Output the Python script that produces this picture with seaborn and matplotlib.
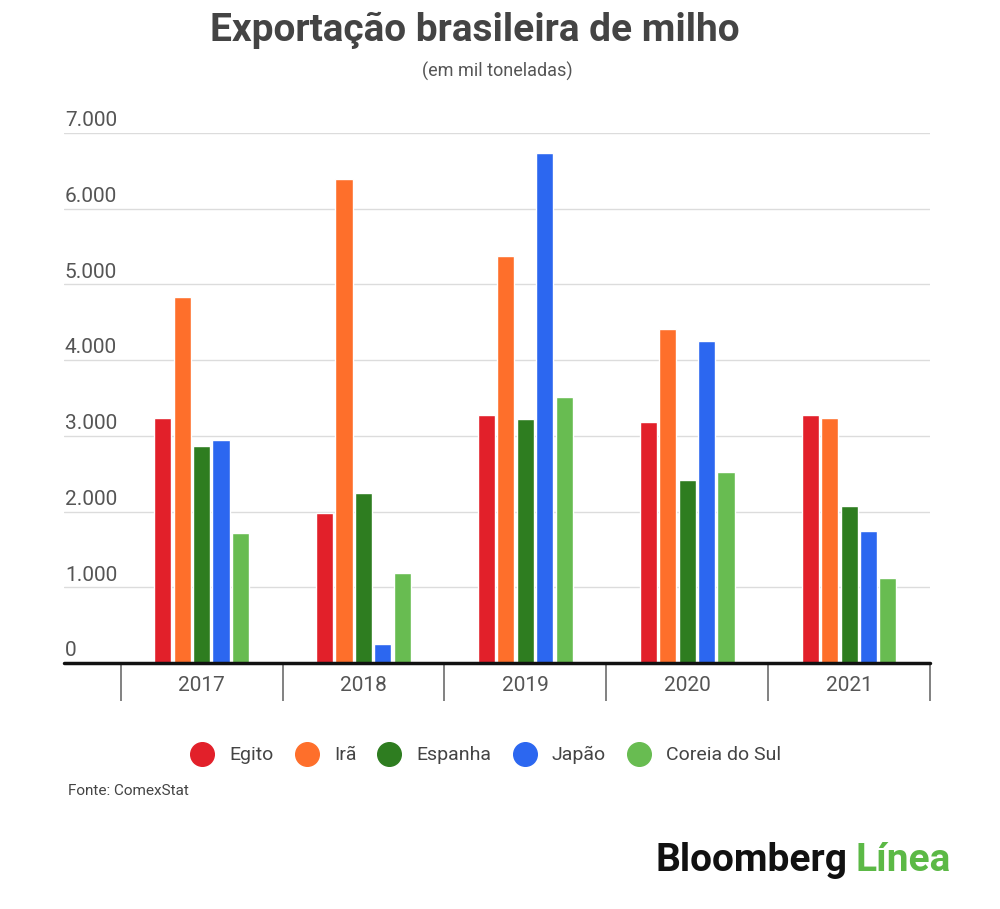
import pandas as pd
import matplotlib.pyplot as plt
import seaborn as sns
from matplotlib.lines import Line2D

# Valores (mil toneladas)
anos = ['2017', '2018', '2019', '2020', '2021']
paises = ['Egito', 'Irã', 'Espanha', 'Japão', 'Coreia do Sul']
egito = [3240, 1980, 3270, 3180, 3270]
ira = [4840, 6390, 5370, 4410, 3240]
espanha = [2870, 2240, 3220, 2420, 2080]
japao = [2950, 250, 6740, 4250, 1740]
coreia = [1720, 1190, 3510, 2520, 1120]
cores = ['#e2202a', '#fe6f2b', '#2e7d20', '#2c67f0', '#68bc51']
y_ticks = [0, 1000, 2000, 3000, 4000, 5000, 6000, 7000]

sns.set_theme(style='white')
plt.rcParams['font.family'] = ['Roboto', 'DejaVu Sans']

rows = []
for pais, vals in zip(paises, [egito, ira, espanha, japao, coreia]):
    for ano, v in zip(anos, vals):
        rows.append({'ano': ano, 'pais': pais, 'valor': v})
df = pd.DataFrame(rows)

fig = plt.figure(figsize=(10, 9.09), dpi=100)
ax = fig.add_axes([0.064, 0.2706, 0.866, 0.5831])

sns.barplot(data=df, x='ano', y='valor', hue='pais', order=anos,
            hue_order=paises, palette=cores, width=0.6, gap=0.12,
            saturation=1, legend=False, ax=ax)

ax.set_xlim(-0.85, 4.5)
ax.set_ylim(0, 7000)
ax.set_yticks(y_ticks)
ax.set_yticklabels([])
ax.tick_params(axis='y', length=0)
ax.grid(axis='y', color='#dcdcdc', lw=1)
ax.set_axisbelow(True)
for s in ax.spines.values():
    s.set_visible(False)
ax.axhline(0, color='#111111', lw=2.5, clip_on=False, zorder=5)

# separadores de categoria
ax.set_xticks([i - 0.5 for i in range(len(anos) + 1)], minor=True)
ax.tick_params(axis='x', which='minor', bottom=True, length=27, width=1.3,
               color='#777777', direction='out')
ax.tick_params(axis='x', which='major', length=0, pad=9,
               labelsize=15, labelcolor='#555555')
ax.set_xlabel('')
ax.set_ylabel('')

for v in y_ticks:
    lab = f'{v:,}'.replace(',', '.')
    ax.text(0.001, v + 35, lab, transform=ax.get_yaxis_transform(),
            ha='left', va='bottom', fontsize=15, color='#555555')

fig.text(0.475, 0.967, 'Exportação brasileira de milho', ha='center',
         va='center', fontsize=28, fontweight='bold', color='#444444')
fig.text(0.497, 0.921, '(em mil toneladas)', ha='center', va='center',
         fontsize=13, color='#555555')

handles = [Line2D([], [], marker='o', ls='', markersize=17,
                  markerfacecolor=c, markeredgecolor=c) for c in cores]
leg = fig.legend(handles, paises, loc='center', ncol=5,
                 bbox_to_anchor=(0.482, 0.169), frameon=False,
                 fontsize=14, handletextpad=0.4, columnspacing=0.7)
for t in leg.get_texts():
    t.set_color('#444444')

fig.text(0.068, 0.130, 'Fonte: ComexStat', ha='left', va='center',
         fontsize=11, color='#444444')

t1 = fig.text(0.655, 0.053, 'Bloomberg', ha='left', va='center',
              fontsize=28, fontweight='bold', color='#111111')
fig.canvas.draw()
bb = t1.get_window_extent()
x2 = (bb.x1 + 8) / fig.bbox.width
fig.text(x2, 0.053, 'Línea', ha='left', va='center',
         fontsize=28, fontweight='bold', color='#5cb946')

fig.savefig('out.png', dpi=100)
